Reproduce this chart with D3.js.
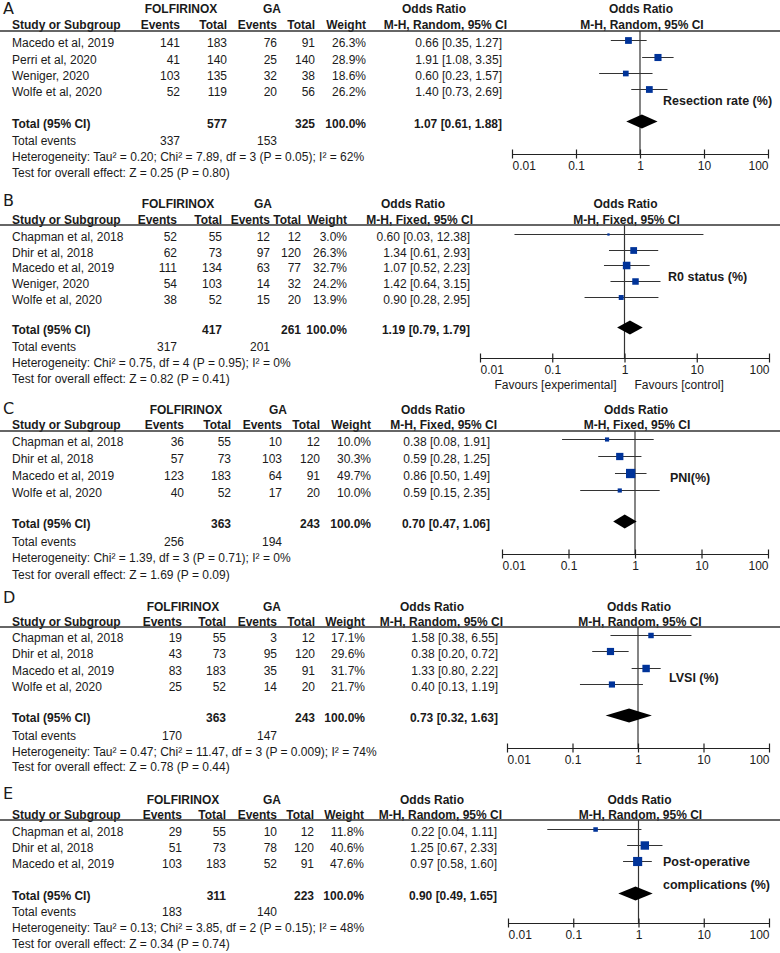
<!DOCTYPE html>
<html><head><meta charset="utf-8">
<script src="https://cdn.jsdelivr.net/npm/d3@7"></script>
<style>
html,body{margin:0;padding:0;background:#fff;}
svg{display:block;font-family:"Liberation Sans",Arial,sans-serif;}
</style></head>
<body><svg id="chart" width="780" height="953"></svg>
<script>
// ---------- DATA ----------
const tickValues = [0.01, 0.1, 1, 10, 100];
const tickLabels = ["0.01", "0.1", "1", "10", "100"];

// Panel A – Resection rate
const studiesA = ["Macedo et al, 2019", "Perri et al, 2020", "Weniger, 2020", "Wolfe et al, 2020"];
const fEventsA = [141, 41, 103, 52];
const fTotalA  = [183, 140, 135, 119];
const gEventsA = [76, 25, 32, 20];
const gTotalA  = [91, 140, 38, 56];
const weightA  = [26.3, 28.9, 18.6, 26.2];
const orA      = [0.66, 1.91, 0.60, 1.40];
const lowA     = [0.35, 1.08, 0.23, 0.73];
const highA    = [1.27, 3.35, 1.57, 2.69];
const summaryA = [1.07, 0.61, 1.88];
const totalsA  = [577, 325, 337, 153];
const hetA  = "Heterogeneity: Tau² = 0.20; Chi² = 7.89, df = 3 (P = 0.05); I² = 62%";
const testA = "Test for overall effect: Z = 0.25 (P = 0.80)";

// Panel B – R0 status
const studiesB = ["Chapman et al, 2018", "Dhir et al, 2018", "Macedo et al, 2019", "Weniger, 2020", "Wolfe et al, 2020"];
const fEventsB = [52, 62, 111, 54, 38];
const fTotalB  = [55, 73, 134, 103, 52];
const gEventsB = [12, 97, 63, 14, 15];
const gTotalB  = [12, 120, 77, 32, 20];
const weightB  = [3.0, 26.3, 32.7, 24.2, 13.9];
const orB      = [0.60, 1.34, 1.07, 1.42, 0.90];
const lowB     = [0.03, 0.61, 0.52, 0.64, 0.28];
const highB    = [12.38, 2.93, 2.23, 3.15, 2.95];
const summaryB = [1.19, 0.79, 1.79];
const totalsB  = [417, 261, 317, 201];
const hetB  = "Heterogeneity: Chi² = 0.75, df = 4 (P = 0.95); I² = 0%";
const testB = "Test for overall effect: Z = 0.82 (P = 0.41)";

// Panel C – PNI
const studiesC = ["Chapman et al, 2018", "Dhir et al, 2018", "Macedo et al, 2019", "Wolfe et al, 2020"];
const fEventsC = [36, 57, 123, 40];
const fTotalC  = [55, 73, 183, 52];
const gEventsC = [10, 103, 64, 17];
const gTotalC  = [12, 120, 91, 20];
const weightC  = [10.0, 30.3, 49.7, 10.0];
const orC      = [0.38, 0.59, 0.86, 0.59];
const lowC     = [0.08, 0.28, 0.50, 0.15];
const highC    = [1.91, 1.25, 1.49, 2.35];
const summaryC = [0.70, 0.47, 1.06];
const totalsC  = [363, 243, 256, 194];
const hetC  = "Heterogeneity: Chi² = 1.39, df = 3 (P = 0.71); I² = 0%";
const testC = "Test for overall effect: Z = 1.69 (P = 0.09)";

// Panel D – LVSI
const studiesD = ["Chapman et al, 2018", "Dhir et al, 2018", "Macedo et al, 2019", "Wolfe et al, 2020"];
const fEventsD = [19, 43, 83, 25];
const fTotalD  = [55, 73, 183, 52];
const gEventsD = [3, 95, 35, 14];
const gTotalD  = [12, 120, 91, 20];
const weightD  = [17.1, 29.6, 31.7, 21.7];
const orD      = [1.58, 0.38, 1.33, 0.40];
const lowD     = [0.38, 0.20, 0.80, 0.13];
const highD    = [6.55, 0.72, 2.22, 1.19];
const summaryD = [0.73, 0.32, 1.63];
const totalsD  = [363, 243, 170, 147];
const hetD  = "Heterogeneity: Tau² = 0.47; Chi² = 11.47, df = 3 (P = 0.009); I² = 74%";
const testD = "Test for overall effect: Z = 0.78 (P = 0.44)";

// Panel E – Post-operative complications
const studiesE = ["Chapman et al, 2018", "Dhir et al, 2018", "Macedo et al, 2019"];
const fEventsE = [29, 51, 103];
const fTotalE  = [55, 73, 183];
const gEventsE = [10, 78, 52];
const gTotalE  = [12, 120, 91];
const weightE  = [11.8, 40.6, 47.6];
const orE      = [0.22, 1.25, 0.97];
const lowE     = [0.04, 0.67, 0.58];
const highE    = [1.11, 2.33, 1.60];
const summaryE = [0.90, 0.49, 1.65];
const totalsE  = [311, 223, 183, 140];
const hetE  = "Heterogeneity: Tau² = 0.13; Chi² = 3.85, df = 2 (P = 0.15); I² = 48%";
const testE = "Test for overall effect: Z = 0.34 (P = 0.74)";

// ---------- LAYOUT ----------
const panels = [
  {letter:"A", method:"M-H, Random, 95% CI", studies:studiesA, fe:fEventsA, ft:fTotalA, ge:gEventsA, gt:gTotalA, w:weightA, or:orA, lo:lowA, hi:highA, sum:summaryA, tot:totalsA, het:hetA, test:testA,
   label:["Resection rate (%)"], labelX:663, labelY:[101],
   L:{letterY:8, folfY:9, headY:25, lineY:31, rowsY:[43,60,76,92], totalY:124, evY:141, hetY:157, testY:173, axisY:154, x0:512, x1:768,
      ev1:180, tot1:227, ev2:277, tot2:315, wR:366, orR:502, orHeadC:434, mhR:507, folfC:181, gaC:272}},
  {letter:"B", method:"M-H, Fixed, 95% CI", studies:studiesB, fe:fEventsB, ft:fTotalB, ge:gEventsB, gt:gTotalB, w:weightB, or:orB, lo:lowB, hi:highB, sum:summaryB, tot:totalsB, het:hetB, test:testB,
   label:["R0 status (%)"], labelX:668, labelY:[277], favours:385,
   L:{letterY:200, folfY:204, headY:220, lineY:225, rowsY:[237,253,268,284,300], totalY:330, evY:347, hetY:363, testY:379, axisY:358, x0:480, x1:769,
      ev1:177, tot1:222, ev2:270, tot2:301, wR:347, orR:470, orHeadC:413, mhR:473, folfC:178, gaC:263}},
  {letter:"C", method:"M-H, Fixed, 95% CI", studies:studiesC, fe:fEventsC, ft:fTotalC, ge:gEventsC, gt:gTotalC, w:weightC, or:orC, lo:lowC, hi:highC, sum:summaryC, tot:totalsC, het:hetC, test:testC,
   label:["PNI(%)"], labelX:670, labelY:[478],
   L:{letterY:408, folfY:410, headY:425, lineY:431, rowsY:[442,459,476,493], totalY:524, evY:542, hetY:558, testY:575, axisY:554, x0:502, x1:768,
      ev1:184, tot1:231, ev2:282, tot2:320, wR:371, orR:490, orHeadC:433, mhR:497, folfC:186, gaC:278}},
  {letter:"D", method:"M-H, Random, 95% CI", studies:studiesD, fe:fEventsD, ft:fTotalD, ge:gEventsD, gt:gTotalD, w:weightD, or:orD, lo:lowD, hi:highD, sum:summaryD, tot:totalsD, het:hetD, test:testD,
   label:["LVSI (%)"], labelX:669, labelY:[678],
   L:{letterY:597, folfY:607, headY:622, lineY:627, rowsY:[638,654,671,687], totalY:718, evY:736, hetY:752, testY:767, axisY:748, x0:507, x1:769,
      ev1:182, tot1:226, ev2:277, tot2:315, wR:365, orR:498, orHeadC:432, mhR:503, folfC:183, gaC:272}},
  {letter:"E", method:"M-H, Random, 95% CI", studies:studiesE, fe:fEventsE, ft:fTotalE, ge:gEventsE, gt:gTotalE, w:weightE, or:orE, lo:lowE, hi:highE, sum:summaryE, tot:totalsE, het:hetE, test:testE,
   label:["Post-operative", "complications (%)"], labelX:663, labelY:[862, 885],
   L:{letterY:793, folfY:800, headY:815, lineY:820, rowsY:[832,848,864], totalY:896, evY:912, hetY:928, testY:944, axisY:923, x0:508, x1:769,
      ev1:182, tot1:226, ev2:277, tot2:314, wR:364, orR:497, orHeadC:432, mhR:502, folfC:183, gaC:272}}
];

const svg = d3.select("#chart");
const TXT = "#1a1a1a";
const BASE = 4.2; // baseline offset from visual text centre
const BLUE = "#003399";

function txt(g, x, y, s, anchor, bold, size) {
  return g.append("text").attr("x", x).attr("y", y + BASE)
    .attr("text-anchor", anchor || "start")
    .attr("font-size", size || 12)
    .attr("font-weight", bold ? "bold" : "normal")
    .attr("fill", TXT).text(s);
}

panels.forEach(p => {
  const L = p.L;
  const g = svg.append("g");
  const x = d3.scaleLog().domain([0.01, 100]).range([L.x0, L.x1]);
  const x1 = x(1);

  // panel letter
  g.append("text").attr("x", 3).attr("y", L.letterY + 6).attr("font-size", 16)
    .attr("font-family", "'DejaVu Sans', sans-serif").attr("font-weight", "normal")
    .attr("fill", TXT).text(p.letter);

  // group headers
  txt(g, L.folfC, L.folfY, "FOLFIRINOX", "middle", true);
  txt(g, L.gaC, L.folfY, "GA", "middle", true);
  txt(g, L.orHeadC, L.folfY, "Odds Ratio", "middle", true);
  txt(g, x1 + 1, L.folfY, "Odds Ratio", "middle", true);

  // column headers
  txt(g, 12, L.headY, "Study or Subgroup", "start", true);
  txt(g, L.ev1, L.headY, "Events", "end", true);
  txt(g, L.tot1, L.headY, "Total", "end", true);
  txt(g, L.ev2, L.headY, "Events", "end", true);
  txt(g, L.tot2, L.headY, "Total", "end", true);
  txt(g, L.wR, L.headY, "Weight", "end", true);
  txt(g, L.mhR, L.headY, p.method, "end", true);
  txt(g, x1 + 2, L.headY, p.method, "middle", true);

  // header rule
  g.append("line").attr("x1", 0).attr("x2", 780).attr("y1", L.lineY).attr("y2", L.lineY)
    .attr("stroke", "#333").attr("stroke-width", 1.3);

  // vertical null line
  g.append("line").attr("x1", x1).attr("x2", x1).attr("y1", L.lineY).attr("y2", L.axisY)
    .attr("stroke", "#333").attr("stroke-width", 1.2);

  // study rows
  p.studies.forEach((s, i) => {
    const y = L.rowsY[i];
    txt(g, 12, y, s);
    txt(g, L.ev1, y, p.fe[i], "end");
    txt(g, L.tot1, y, p.ft[i], "end");
    txt(g, L.ev2, y, p.ge[i], "end");
    txt(g, L.tot2, y, p.gt[i], "end");
    txt(g, L.wR, y, p.w[i].toFixed(1) + "%", "end");
    txt(g, L.orR, y, p.or[i].toFixed(2) + " [" + p.lo[i].toFixed(2) + ", " + p.hi[i].toFixed(2) + "]", "end");
    const my = y - 2.5;
    g.append("line").attr("x1", x(p.lo[i])).attr("x2", x(p.hi[i])).attr("y1", my).attr("y2", my)
      .attr("stroke", "#333").attr("stroke-width", 1);
    const sz = Math.sqrt(p.w[i]) * 1.32;
    g.append("rect").attr("x", x(p.or[i]) - sz / 2).attr("y", my - sz / 2)
      .attr("width", sz).attr("height", sz).attr("fill", BLUE);
  });

  // total row
  txt(g, 12, L.totalY, "Total (95% CI)", "start", true);
  txt(g, L.tot1, L.totalY, p.tot[0], "end", true);
  txt(g, L.tot2, L.totalY, p.tot[1], "end", true);
  txt(g, L.wR, L.totalY, "100.0%", "end", true);
  txt(g, L.orR, L.totalY, p.sum[0].toFixed(2) + " [" + p.sum[1].toFixed(2) + ", " + p.sum[2].toFixed(2) + "]", "end", true);
  const dy = L.totalY - 2.5, dh = 7;
  g.append("path").attr("d",
    `M${x(p.sum[1])},${dy} L${x(p.sum[0])},${dy - dh} L${x(p.sum[2])},${dy} L${x(p.sum[0])},${dy + dh} Z`)
    .attr("fill", "#000");

  txt(g, 12, L.evY, "Total events");
  txt(g, L.ev1, L.evY, p.tot[2], "end");
  txt(g, L.ev2, L.evY, p.tot[3], "end");
  txt(g, 12, L.hetY, p.het);
  txt(g, 12, L.testY, p.test);

  // outcome label
  p.label.forEach((t, k) => txt(g, p.labelX, p.labelY[k], t, "start", true, 12.5));

  // axis
  const axis = d3.axisBottom(x).tickValues(tickValues)
    .tickFormat((d, i) => tickLabels[i]).tickSizeInner(4.5).tickSizeOuter(0);
  const ag = g.append("g").attr("transform", `translate(0,${L.axisY})`).call(axis);
  ag.select(".domain").attr("stroke", "#222").attr("stroke-width", 1.2);
  ag.selectAll(".tick line").attr("y1", -4.5).attr("y2", 4.5).attr("stroke", "#222").attr("stroke-width", 1.2);
  ag.selectAll(".tick text").attr("y", 15.5).attr("dy", null)
    .attr("font-size", 12).attr("font-family", "'Liberation Sans', Arial, sans-serif").attr("fill", TXT)
    .attr("text-anchor", (d, i) => i === 0 ? "start" : (i === tickValues.length - 1 ? "end" : "middle"));

  if (p.favours) {
    txt(g, x1 - 8, p.favours, "Favours [experimental]", "end");
    txt(g, x1 + 10, p.favours, "Favours [control]", "start");
  }
});
</script></body></html>
